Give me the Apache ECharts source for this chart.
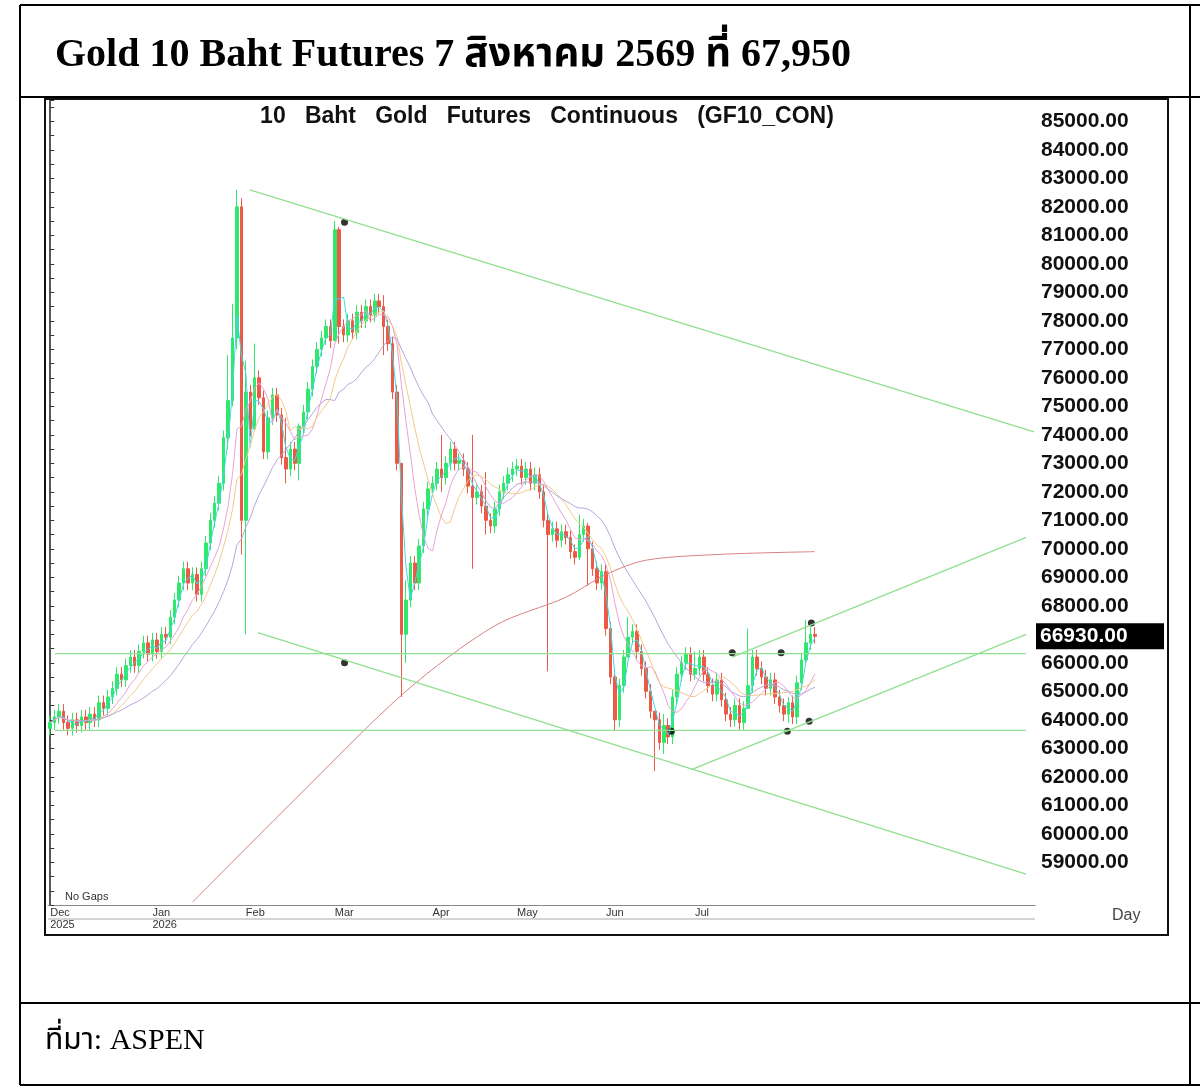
<!DOCTYPE html>
<html><head><meta charset="utf-8">
<script src="https://cdn.jsdelivr.net/npm/echarts@6/dist/echarts.min.js"></script>
<style>body{margin:0;background:#fff}#c{width:1200px;height:1088px}</style>
</head><body><div id="c"></div>
<script>
// daily closes, month by month (No Gaps: open = prior close)
var closes = [].concat(
  [63900,64100,64300,63900,63700,64000,63800,64100,63900,64200,64000,64600,64400,64800,65100,65600,65400,65900,66200,65900,66400,66700,66300],
  [66800,66400,67000,66900,67600,68200,68800,69300,68800,69100,68400,69300,70200,71000,71600,72300,73900,75200,77400,82000,71000],
  [75500,74200,76000,75300,73400,74600,75400,74700,73200,72800,73500,73000,74300,74800,75600,76400,77000,77400,77800,77300],
  [81200,77800,77500,78000,77600,78300,78000,78500,78200,78700,78500,77800,77200,75500,73000,67000,68200,69500,68800,70100,71400,72100],
  [72300,72800,72500,73000,73500,73000,73100,72800,72200,71800,72000,71500,71000,70800,71400,72000,72300,72600,72800],
  [72900,72500,72800,72300,72600,72000,71000,70500,70700,70300,70600,70400,69900,69700,70500,70800,70000,69300,68800,69200],
  [67200,65500,64000,65200,66200,66900,67100,66400,65800,65000,64300,64000,63200,63800,63400,64800,65600,66000,66300,65600],
  [65800,66200,65600,65200,64900,65400,64700,64200,64000,64500,63900,64400,65200,66200,65800,65500,65100,65400,64800,64500,64200,64600,64100,65300,66100,66700,67000,66930]
);
var firstOpen = 63700;
// notable wicks: bar index -> [low, high]
var wicks = {
  40:[73500,76800], 41:[75000,78600], 42:[77000,82600], 43:[69800,82300], 44:[67000,76600],
  46:[74500,77200], 53:[72300,74600], 56:[72400,74400],
  64:[77300,81500], 65:[77200,81300], 75:[76800,78900], 79:[64800,73000], 80:[66000,68900],
  88:[72000,74000], 95:[69300,74000], 98:[70500,72700],
  112:[65700,71300], 119:[69600,71200], 121:[68700,70900],
  127:[63600,65600], 130:[66200,67600], 136:[62200,64000], 138:[62800,64200],
  145:[65400,66400], 157:[65900,67200], 166:[63900,64800], 170:[66000,67500]
};
// long moving average, [bar index, value]
var maLong = [[32,57600],[55,61200],[80,65000],[100,67300],[116,68300],[125,69100],[134,69600],[150,69800],[172,69900]];
var holidays = ['2026-01-01','2026-04-13','2026-04-14','2026-04-15','2026-05-01','2026-06-01','2026-06-03'];
var trendLines = [
  [[44.9,82600],[221.3,74100]],
  [[46.7,67060],[219.5,58580]],
  [[144.2,62250],[219.5,67000]],
  [[153.4,66200],[219.5,70400]],
  [[1.1,66320],[219.5,66320]],
  [[1.1,63630],[219.5,63630]]
];
var dots = [[66.2,81460],[66.2,66000],[139.7,63600],[153.4,66350],[164.4,66350],[165.8,63600],[171.2,67400],[170.7,63950]];
var lastPrice = 66930;

var dates = [];
var d = new Date(Date.UTC(2025,11,1));
while (dates.length < 222) {
  var s = d.toISOString().slice(0,10), wd = d.getUTCDay();
  if (wd !== 0 && wd !== 6 && holidays.indexOf(s) < 0) dates.push(s);
  d.setUTCDate(d.getUTCDate()+1);
}
var candles = closes.map(function(c,i){
  var o = i ? closes[i-1] : firstOpen;
  var w = wicks[i] || [Math.min(o,c)-250, Math.max(o,c)+250];
  return [o,c,w[0],w[1]];
});
function ma(n){
  return closes.map(function(c,i){
    var a = closes.slice(Math.max(0,i-n+1), i+1);
    return Math.round(a.reduce(function(p,q){return p+q;},0)/a.length);
  });
}
var mons = ['Jan','Feb','Mar','Apr','May','Jun','Jul','Aug','Sep','Oct','Nov','Dec'];
function monthStart(i){ return i < 160 && (i===0 || dates[i].slice(5,7)!==dates[i-1].slice(5,7)); }

var chart = echarts.init(document.getElementById('c'));
var series = [
  {type:'candlestick', data:candles, barWidth:3,
   itemStyle:{color:'#2fe86c', color0:'#ec5a45', borderColor:'#2fe86c', borderColor0:'#ec5a45', borderWidth:1}},
  {type:'line', data:ma(3), symbol:'none', lineStyle:{color:'#3fd8e8',width:1}},
  {type:'line', data:ma(8), symbol:'none', lineStyle:{color:'#e9a3d6',width:1}},
  {type:'line', data:ma(12), symbol:'none', lineStyle:{color:'#f3c98a',width:1}},
  {type:'line', data:ma(22), symbol:'none', lineStyle:{color:'#b7a4dc',width:1}},
  {type:'line', xAxisIndex:1, data:maLong, symbol:'none', smooth:0.3, lineStyle:{color:'#d98080',width:1}}
];
trendLines.forEach(function(l){
  series.push({type:'line', xAxisIndex:1, data:l, symbol:'none', lineStyle:{color:'#8fe08f',width:1.3}});
});
series.push({type:'scatter', xAxisIndex:1, data:dots, symbolSize:7, itemStyle:{color:'#000'}});

chart.setOption({
  animation:false,
  title:{text:'10   Baht   Gold   Futures   Continuous   (GF10_CON)', left:542, top:100, textAlign:'center',
    textStyle:{fontFamily:'Liberation Sans, Arial', fontWeight:'bold', fontSize:23, color:'#111'}},
  grid:{left:48, right:165, top:100, bottom:183},
  xAxis:[
    {type:'category', data:dates, boundaryGap:true,
     axisLine:{lineStyle:{color:'#888'}},
     axisTick:{interval:function(i){return monthStart(i);}, length:28, lineStyle:{color:'#555'}},
     axisLabel:{interval:function(i){return monthStart(i);}, align:'left', margin:2, color:'#333', fontSize:11, fontFamily:'Liberation Sans',
       lineHeight:12,
       formatter:function(v){var m=+v.slice(5,7); var t=mons[m-1]; if(m===12||m===1) t+='\n'+v.slice(0,4); return t;}},
     splitLine:{show:false}},
    {type:'value', min:-0.5, max:221.5, show:false}
  ],
  yAxis:{type:'value', position:'right', min:57500, max:85750, interval:500,
    axisLine:{show:true, lineStyle:{color:'#222', width:1.5}},
    axisTick:{show:true, length:4, lineStyle:{color:'#333'}},
    axisLabel:{margin:6, color:'#111', fontSize:21, fontWeight:'bold', fontFamily:'Liberation Sans, Arial',
      formatter:function(v){return (v%1000===0 && v>=59000 && v<=85000 && Math.abs(v-lastPrice)>500) ? v.toFixed(2) : '';}},
    splitLine:{show:false}},
  series:series
});
var py = chart.convertToPixel({yAxisIndex:0}, lastPrice);
chart.setOption({graphic:[
    {type:'line', shape:{x1:20,y1:5,x2:1200,y2:5}, style:{stroke:'#000',lineWidth:2}},
    {type:'line', shape:{x1:20,y1:97,x2:1200,y2:97}, style:{stroke:'#000',lineWidth:2}},
    {type:'line', shape:{x1:20,y1:1003,x2:1200,y2:1003}, style:{stroke:'#000',lineWidth:2}},
    {type:'line', shape:{x1:20,y1:1085,x2:1200,y2:1085}, style:{stroke:'#000',lineWidth:2}},
    {type:'line', shape:{x1:20,y1:5,x2:20,y2:1085}, style:{stroke:'#000',lineWidth:2}},
    {type:'line', shape:{x1:1190,y1:5,x2:1190,y2:1085}, style:{stroke:'#000',lineWidth:2}},
    {type:'rect', shape:{x:45,y:99,width:1123,height:836}, style:{fill:'none',stroke:'#111',lineWidth:2}},
    {type:'line', shape:{x1:48,y1:919,x2:1035,y2:919}, style:{stroke:'#aaa',lineWidth:1}},
    {type:'text', left:55, top:36, style:{text:'Gold 10 Baht Futures 7 สิงหาคม 2569 ที่ 67,950',
      font:'bold 40px "Liberation Serif", "Noto Sans Thai", serif', fill:'#000'}},
    {type:'text', left:65, top:891, style:{text:'No Gaps', font:'11px "Liberation Sans"', fill:'#333'}},
    {type:'text', left:1112, top:908, style:{text:'Day', font:'16px "Liberation Sans"', fill:'#444'}},
    {type:'text', left:45, top:1026, style:{text:'ที่มา: ASPEN', font:'30px "Liberation Serif", "Noto Sans Thai", serif', fill:'#000'}},
    {type:'rect', shape:{x:1036,y:py-13,width:128,height:26}, style:{fill:'#000'}},
    {type:'text', left:1040, top:py-11, style:{text:lastPrice.toFixed(2), font:'bold 21px "Liberation Sans"', fill:'#fff'}}
]});
</script>
</body></html>
